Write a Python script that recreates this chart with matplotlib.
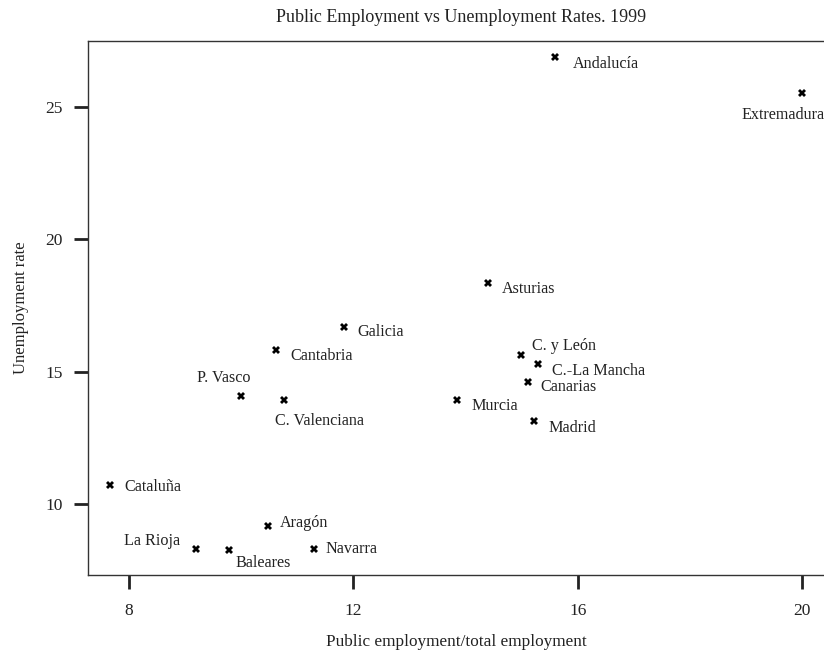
import matplotlib
matplotlib.use('Agg')
import matplotlib.pyplot as plt

plt.rcParams['font.family'] = ['Liberation Serif', 'DejaVu Serif']

# public employment share vs unemployment rate by region, 1999
regions = ['Andalucía', 'Extremadura', 'Asturias', 'Galicia', 'Cantabria',
           'P. Vasco', 'C. Valenciana', 'C. y León', 'C.-La Mancha',
           'Canarias', 'Murcia', 'Madrid', 'Cataluña', 'La Rioja',
           'Baleares', 'Aragón', 'Navarra']
public_emp = [15.60, 20.00, 14.40, 11.83, 10.62,
              10.00, 10.76, 14.99, 15.30,
              15.11, 13.85, 15.22, 7.67, 9.19,
              9.79, 10.47, 11.29]
unemp_rate = [26.90, 25.52, 18.36, 16.69, 15.82,
              14.08, 13.93, 15.63, 15.28,
              14.62, 13.93, 13.14, 10.72, 8.30,
              8.26, 9.17, 8.30]

# label placement: (dx, dy) in pixels from the point, horizontal alignment
label_pos = {
    'Andalucía': (18, -7, 'left'),
    'Extremadura': (-19, -22, 'center'),
    'Asturias': (14, -6, 'left'),
    'Galicia': (14, -5, 'left'),
    'Cantabria': (14, -6, 'left'),
    'P. Vasco': (-17, 18, 'center'),
    'C. Valenciana': (36, -21, 'center'),
    'C. y León': (11, 9, 'left'),
    'C.-La Mancha': (14, -7, 'left'),
    'Canarias': (13, -5, 'left'),
    'Murcia': (14, -6, 'left'),
    'Madrid': (14, -7, 'left'),
    'Cataluña': (14, -2, 'left'),
    'La Rioja': (-16, 8, 'right'),
    'Baleares': (34, -13, 'center'),
    'Aragón': (12, 3, 'left'),
    'Navarra': (12, 0, 'left'),
}

fig = plt.figure(figsize=(8.24, 6.53), dpi=100)
ax = fig.add_axes([88 / 824, 78 / 653, 1 - 88 / 824, 534 / 653])

ax.plot(public_emp, unemp_rate, linestyle='none', marker='X',
        markersize=5.5, color='black', markeredgewidth=0, clip_on=False)

for name, x, y in zip(regions, public_emp, unemp_rate):
    dx, dy, ha = label_pos[name]
    ax.annotate(name, (x, y), xytext=(dx, dy), textcoords='offset pixels',
                ha=ha, va='center', fontsize=11.6, color='#222222')

ax.set_xlim(7.269, 20.39)
ax.set_ylim(7.32, 27.49)
ax.set_xticks([8, 12, 16, 20])
ax.set_yticks([10, 15, 20, 25])

for side in ['left', 'bottom', 'top']:
    ax.spines[side].set_color('#333333')
    ax.spines[side].set_linewidth(1.0)
ax.spines['right'].set_visible(False)

ax.tick_params(axis='both', length=10, width=2, color='#222222',
               labelsize=12.5, labelcolor='#222222')
ax.tick_params(axis='x', pad=10)
ax.tick_params(axis='y', pad=8)

fig.text(461 / 824, 1 - 18 / 653, 'Public Employment vs Unemployment Rates. 1999',
         ha='center', va='center', fontsize=13, color='#222222')
ax.set_xlabel('Public employment/total employment', fontsize=12.4,
              color='#222222', labelpad=11)
ax.set_ylabel('Unemployment rate', fontsize=12, color='#222222', labelpad=12)

fig.savefig('out.png', dpi=100)
